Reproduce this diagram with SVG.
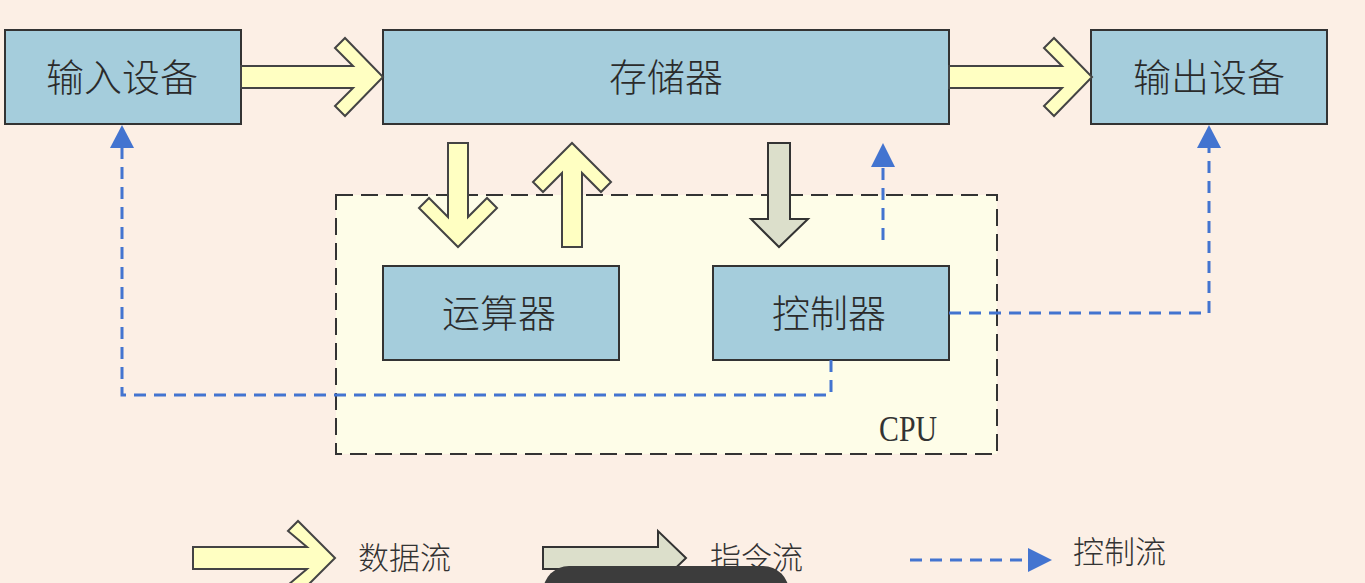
<svg xmlns="http://www.w3.org/2000/svg" width="1365" height="583" viewBox="0 0 1365 583">
<style>
.box{fill:#a5cddc;stroke:#333;stroke-width:2}
.lbl{font-family:"Noto Sans CJK SC","Noto Sans CJK JP",sans-serif;font-size:38px;font-weight:300;fill:#2b2b2b;text-anchor:middle;dominant-baseline:central}
.leg{font-family:"Noto Sans CJK SC","Noto Sans CJK JP",sans-serif;font-size:31px;font-weight:300;fill:#333;dominant-baseline:central}
.data{fill:#ffffc2;stroke:#444;stroke-width:2;stroke-linejoin:miter}
.instr{fill:#dcdfcb;stroke:#333;stroke-width:2}
.ctrl{fill:none;stroke:#4374d0;stroke-width:3;stroke-dasharray:12 8}
.head{fill:#4374d0}
</style>
<rect width="1365" height="583" fill="#fcefe5"/>
<g id="cpu">
<rect x="336" y="195" width="661" height="259" fill="#fefde8" stroke="#333" stroke-width="2" stroke-dasharray="17 8"/>
<text x="908" y="429" font-family="Liberation Serif,serif" font-size="36" fill="#333" text-anchor="middle" dominant-baseline="central" textLength="58" lengthAdjust="spacingAndGlyphs">CPU</text>
</g>
<g id="input"><rect class="box" x="5" y="30" width="236" height="94"/><text class="lbl" x="122" y="74">输入设备</text></g>
<g id="memory"><rect class="box" x="383" y="30" width="566" height="94"/><text class="lbl" x="666" y="74">存储器</text></g>
<g id="output"><rect class="box" x="1091" y="30" width="236" height="94"/><text class="lbl" x="1209" y="74">输出设备</text></g>
<g id="alu"><rect class="box" x="383" y="266" width="236" height="94"/><text class="lbl" x="499" y="310">运算器</text></g>
<g id="control"><rect class="box" x="713" y="266" width="236" height="94"/><text class="lbl" x="829" y="310">控制器</text></g>
<g id="connectors">
<polygon class="data" points="241,66 353,66 335,48 345,38 383,77 345,116 335,106 353,88 241,88"/>
<polygon class="data" points="949,66 1062,66 1044,48 1054,38 1092,77 1054,116 1044,106 1062,88 949,88"/>
<polygon class="data" points="448,143 468,143 468,217 487,198 497,208 458,247 419,208 429,198 448,217"/>
<polygon class="data" points="562,247 582,247 582,173 601,192 611,182 572,143 533,182 543,192 562,173"/>
<polygon class="instr" points="768,143 790,143 790,219 808,219 779,247 751,219 768,219"/>
<path class="ctrl" d="M883,240 V162"/>
<polygon class="head" points="883,143 895,167 871,167"/>
<path class="ctrl" d="M949,313 H1209 V146"/>
<polygon class="head" points="1209,125 1221,148 1197,148"/>
<path class="ctrl" d="M831,360 V395 H122 V146"/>
<polygon class="head" points="122,125 134,148 110,148"/>
</g>
<g id="legend">
<polygon class="data" points="193,547 307,547 288,531 298,521 335,558 298,595 288,585 307,569 193,569"/>
<text class="leg" x="358" y="555">数据流</text>
<polygon class="instr" points="543,547 658,547 658,531 686,558 658,585 658,569 543,569"/>
<text class="leg" x="710" y="555">指令流</text>
<path class="ctrl" d="M910,560 H1030"/>
<polygon class="head" points="1052,560 1028,548 1028,572"/>
<text class="leg" x="1073" y="549">控制流</text>
</g>
<rect x="543" y="566" width="246" height="60" rx="26" fill="#3c3c3c"/>
</svg>
